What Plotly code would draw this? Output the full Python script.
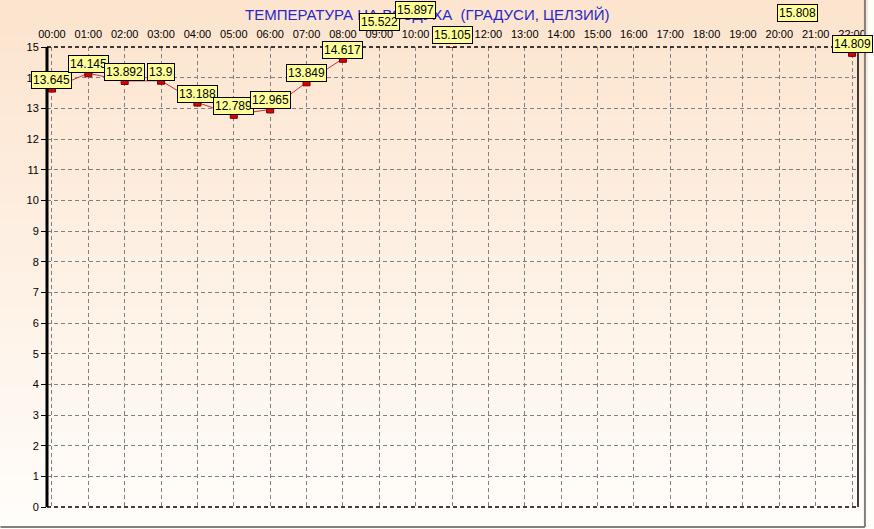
import plotly.graph_objects as go

# ---- data ----
hours = [0, 1, 2, 3, 4, 5, 6, 7, 8, 9, 10, 11, 20.5, 22]
temps = [13.645, 14.145, 13.892, 13.9, 13.188, 12.789, 12.965, 13.849,
         14.617, 15.522, 15.897, 15.105, 15.808, 14.809]
tick_hours = list(range(0, 23))
tick_labels = [f"{h:02d}:00" for h in tick_hours]
y_ticks = list(range(0, 16))
title_text = "ТЕМПЕРАТУРА НА ВОЗДУХА  (ГРАДУСИ, ЦЕЛЗИЙ)"

W, H = 874, 529
FONT = "Liberation Sans, Arial, sans-serif"
Y_MIN, Y_MAX = 0, 15

fig = go.Figure()
fig.add_trace(go.Scatter(
    x=hours, y=temps, mode="lines+markers",
    line=dict(color="#cc3030", width=1),
    marker=dict(symbol="square", size=7, color="#e00000",
                line=dict(color="#700000", width=1)),
    hoverinfo="x+y", showlegend=False, cliponaxis=True,
))

l, r, t_m, b = 47, 8, 47, 22
pw, ph = W - l - r, H - t_m - b
def px_to_paper_x(px):
    return (px - l) / pw
def px_to_paper_y(py):
    return (H - b - py) / ph

# gradient background bands (peach top -> near white bottom)
shapes = []
n = 60
top = (252, 228, 206)
bot = (255, 253, 250)
y_top = px_to_paper_y(0)
y_bot = px_to_paper_y(H)
step = (y_top - y_bot) / n
for i in range(n):
    t = i / (n - 1)
    c = tuple(round(top[k] + (bot[k] - top[k]) * t) for k in range(3))
    shapes.append(dict(type="rect", xref="paper", yref="paper",
                       x0=px_to_paper_x(-2), x1=px_to_paper_x(W + 2),
                       y0=y_top - (i + 1) * step - 0.002, y1=y_top - i * step,
                       fillcolor="rgb(%d,%d,%d)" % c, line=dict(width=0),
                       layer="below"))
# frame lines of plot area
shapes += [
    dict(type="line", xref="paper", yref="paper", x0=0, x1=0, y0=0, y1=1,
         line=dict(color="black", width=3)),
    dict(type="line", xref="paper", yref="paper", x0=1, x1=1, y0=0, y1=1,
         line=dict(color="black", width=1.5)),
    dict(type="line", xref="paper", yref="paper", x0=0, x1=1, y0=1, y1=1,
         line=dict(color="black", width=1.5, dash="4px,3px")),
    dict(type="line", xref="paper", yref="paper", x0=0, x1=1, y0=0, y1=0,
         line=dict(color="black", width=1.5, dash="4px,3px")),
]
# window border (gray) at bottom and right
shapes += [
    dict(type="line", xref="paper", yref="paper",
         x0=px_to_paper_x(0), x1=px_to_paper_x(873),
         y0=px_to_paper_y(527), y1=px_to_paper_y(527),
         line=dict(color="#808080", width=2)),
    dict(type="line", xref="paper", yref="paper",
         x0=px_to_paper_x(873), x1=px_to_paper_x(873),
         y0=px_to_paper_y(527), y1=px_to_paper_y(0),
         line=dict(color="#808080", width=2)),
]

annotations = [dict(
    text=title_text, xref="paper", yref="paper",
    x=px_to_paper_x(431), y=px_to_paper_y(14), xanchor="center", yanchor="middle",
    showarrow=False, font=dict(family=FONT, size=15, color="#2828c8"),
)]
for hx, v in zip(hours, temps):
    # value converted to paper fraction so labels above the axis range stay visible
    annotations.append(dict(
        x=hx, y=(v - Y_MIN) / (Y_MAX - Y_MIN), xref="x", yref="paper",
        text=f"{v:g}",
        showarrow=False, xanchor="center", yanchor="bottom",
        font=dict(family=FONT, size=12, color="black"),
        bgcolor="#ffff99", bordercolor="black", borderwidth=1, borderpad=1,
    ))

fig.update_layout(
    width=W, height=H,
    margin=dict(l=l, r=r, t=t_m, b=b, pad=0),
    paper_bgcolor="#fffdfa", plot_bgcolor="rgba(0,0,0,0)",
    shapes=shapes, annotations=annotations,
    font=dict(family=FONT, size=11, color="black"),
)
fig.update_xaxes(
    range=[-0.136, 22.163], side="top",
    tickmode="array", tickvals=tick_hours, ticktext=tick_labels,
    showgrid=True, gridcolor="#808080", gridwidth=1, griddash="4px,3px",
    zeroline=False, showline=False, ticks="", ticklabelstandoff=6,
    tickfont=dict(family=FONT, size=11, color="black"), fixedrange=True,
)
fig.update_yaxes(
    range=[Y_MIN, Y_MAX], tickmode="array", tickvals=y_ticks,
    showgrid=True, gridcolor="#808080", gridwidth=1, griddash="4px,3px",
    zeroline=False, showline=False, ticks="outside", ticklen=5,
    tickcolor="black", tickwidth=1,
    tickfont=dict(family=FONT, size=11, color="black"), fixedrange=True,
)
fig.write_html("out.html",
               config={"displayModeBar": False},
               post_script="document.body.style.margin='0';document.body.style.overflow='hidden';")
